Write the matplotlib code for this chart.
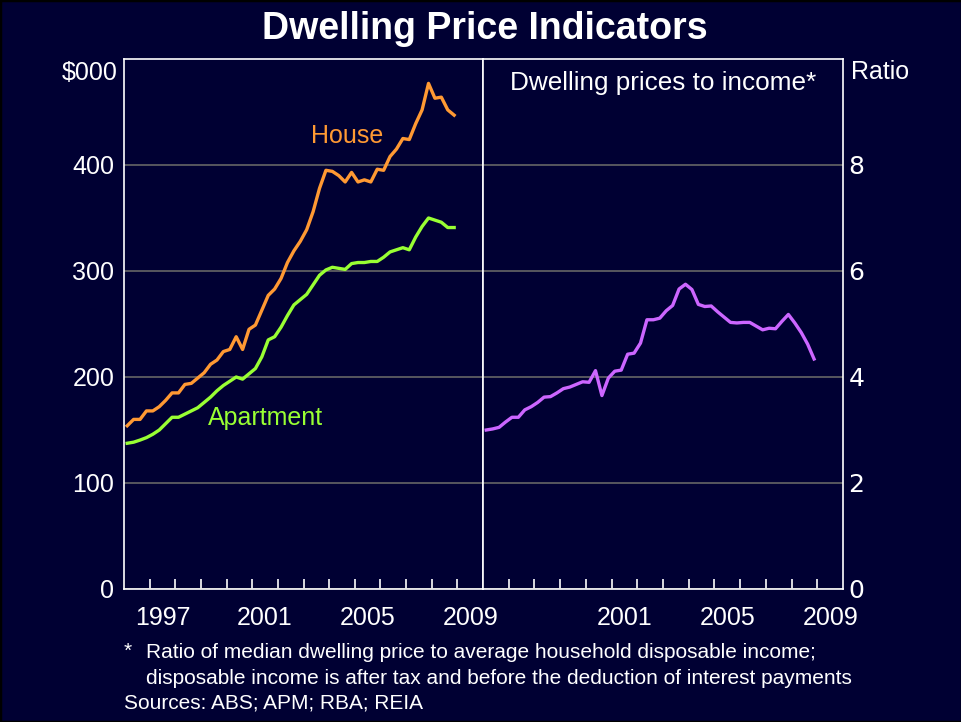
import numpy as np
from matplotlib import pyplot as plt
from matplotlib.patches import Rectangle

# quarterly, 1996 Q1 .. 2008 Q4
quarters = [1996 + 0.125 + 0.25 * i for i in range(52)]

house = [154, 160, 160, 168, 168, 172, 178, 185, 185, 193,
         194, 199, 204, 212, 216, 224, 226, 238, 226, 245,
         249, 263, 277, 283, 293, 308, 319, 328, 339, 356,
         378, 395, 394, 390, 384, 393, 384, 386, 384, 396,
         395, 408, 415, 425, 424, 439, 452, 477, 463, 464,
         452, 447]

apartment = [137.5, 138.5, 140.5, 142.8, 146, 150, 156, 162, 162, 165,
             168, 171, 176, 181, 187, 192, 196, 200, 198, 203,
             208, 219, 235, 238, 247, 258, 268, 273, 278, 287,
             296, 301, 303.5, 302.5, 301.5, 307, 308, 308, 309, 309,
             313, 318, 320, 322, 320, 332, 342, 350, 348, 346,
             341, 341]

ratio = [3.00, 3.02, 3.05, 3.15, 3.24, 3.24, 3.38, 3.44, 3.52, 3.62,
         3.63, 3.70, 3.78, 3.81, 3.86, 3.91, 3.90, 4.12, 3.65, 3.98,
         4.11, 4.13, 4.43, 4.45, 4.64, 5.08, 5.08, 5.11, 5.25, 5.35,
         5.66, 5.75, 5.65, 5.37, 5.33, 5.34, 5.23, 5.13, 5.03, 5.02,
         5.03, 5.03, 4.96, 4.89, 4.92, 4.91, 5.05, 5.18, 5.02, 4.84,
         4.62, 4.34]

left_yticks = [0, 100, 200, 300, 400]
right_yticks = [0, 2, 4, 6, 8]
left_years = [1997, 2001, 2005, 2009]
right_years = [2001, 2005, 2009]

BG = '#000033'
FONT = 'Liberation Sans'


def style_axes(ax, ymax, yticks, years):
    ax.set_facecolor(BG)
    ax.set_xlim(1996, 2010)
    ax.set_ylim(0, ymax)
    for s in ax.spines.values():
        s.set_color('white')
        s.set_linewidth(1.2)
    ax.set_yticks(yticks)
    ax.yaxis.grid(True, color='#666666', lw=1.2)
    ax.set_axisbelow(True)
    # tick marks at year boundaries, labels mid-year
    ax.set_xticks(range(1997, 2010))
    ax.set_xticklabels([])
    ax.set_xticks([y + 0.5 for y in years], minor=True)
    ax.set_xticklabels([str(y) for y in years], minor=True)
    ax.tick_params(axis='x', which='major', direction='in', length=7,
                   width=1.2, color='white')
    ax.tick_params(axis='x', which='minor', length=0, pad=12,
                   labelsize=18, labelcolor='white')
    ax.tick_params(axis='y', length=0, labelsize=18, labelcolor='white')
    for lab in ax.get_xticklabels(minor=True) + ax.get_yticklabels():
        lab.set_fontfamily(FONT)


def main():
    fig = plt.figure(figsize=(9.62, 7.22), dpi=100)
    fig.patch.set_facecolor(BG)

    ax1 = fig.add_axes([124 / 962, 133 / 722, 359 / 962, 530 / 722])
    ax2 = fig.add_axes([483 / 962, 133 / 722, 360 / 962, 530 / 722])

    style_axes(ax1, 500, left_yticks, left_years)
    style_axes(ax2, 10, right_yticks, right_years)
    ax2.yaxis.tick_right()
    ax2.tick_params(axis='y', pad=4)
    ax1.tick_params(axis='y', pad=7)

    ax1.plot(quarters, house, color='#FF9933', lw=2.4)
    ax1.plot(quarters, apartment, color='#99FF33', lw=2.4)
    ax2.plot(quarters, ratio, color='#CC66FF', lw=2.4)

    ax1.text(2004.7, 427, 'House', color='#FF9933', fontsize=18,
             family=FONT, ha='center', va='center')
    ax1.text(2001.5, 161, 'Apartment', color='#99FF33', fontsize=18,
             family=FONT, ha='center', va='center')
    ax2.text(0.5, 0.955, 'Dwelling prices to income*', color='white',
             fontsize=18.8, family=FONT, ha='center', va='center',
             transform=ax2.transAxes)

    fig.text(118 / 962, 1 - 73 / 722, '$000', color='white', fontsize=18,
             family=FONT, ha='right', va='center')
    fig.text(851 / 962, 1 - 72 / 722, 'Ratio', color='white', fontsize=18,
             family=FONT, ha='left', va='center')

    fig.text(485 / 962, 1 - 29 / 722, 'Dwelling Price Indicators',
             color='white', fontsize=27, fontweight='bold', family=FONT,
             ha='center', va='center')

    fig.text(124 / 962, 1 - 651 / 722, '*', color='white', fontsize=15,
             family=FONT, ha='left', va='center')
    fig.text(146 / 962, 1 - 652 / 722,
             'Ratio of median dwelling price to average household disposable income;',
             color='white', fontsize=15, family=FONT, ha='left', va='center')
    fig.text(146 / 962, 1 - 678 / 722,
             'disposable income is after tax and before the deduction of interest payments',
             color='white', fontsize=15, family=FONT, ha='left', va='center')
    fig.text(124 / 962, 1 - 703 / 722, 'Sources: ABS; APM; RBA; REIA',
             color='white', fontsize=15, family=FONT, ha='left', va='center')

    # thin dark frame round the slide
    fig.patches.append(Rectangle((0, 0), 1, 1, transform=fig.transFigure,
                                 fill=False, edgecolor='black', lw=2.5))

    fig.savefig('out.png', dpi=100, facecolor=BG)


if __name__ == '__main__':
    main()
